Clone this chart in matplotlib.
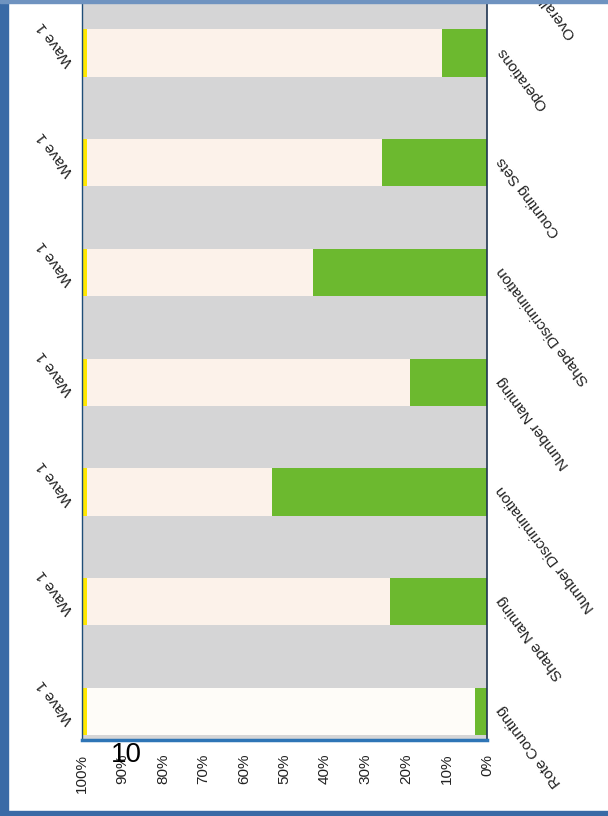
import numpy as np
import matplotlib.pyplot as plt
from matplotlib.patches import Rectangle

plt.rcParams['font.family'] = ['Liberation Sans', 'DejaVu Sans']

# categories from bottom to top (the scanned page is upside down)
categories = ["Rote Counting", "Shape Naming", "Number Discrimination", "Number Naming",
              "Shape Discrimination", "Counting Sets", "Operations", "Overall Numeracy"]
wave_labels = ["Wave 1", "Wave 1", "Wave 1", "Wave 1", "Wave 1", "Wave 1", "Wave 1", "Wave 1"]
green_pct = np.array([3, 24, 53, 19, 43, 26, 11, 25])
yellow_pct = np.array([1.2, 1.2, 1.2, 1.2, 1.2, 1.2, 1.2, 1.2])
light_pct = 100 - green_pct - yellow_pct
tick_vals = [0, 10, 20, 30, 40, 50, 60, 70, 80, 90, 100]
tick_labels = [str(v) + "%" for v in tick_vals]

light_colors = ["#fefcf8"] + ["#fcf2ea"] * 7
GREEN = "#6cb92f"
YELLOW = "#ffe800"
GRAY = "#d5d5d6"

fig = plt.figure(figsize=(6.08, 8.16), dpi=100)
fig.patch.set_facecolor("white")

# blue page border from the scan
fig.patches.append(Rectangle((0, 0), 8 / 608, 1, transform=fig.transFigure, color="#3a6aa6", zorder=0))
fig.patches.append(Rectangle((0, 0), 1, 5 / 816, transform=fig.transFigure, color="#3a6aa6", zorder=0))
fig.patches.append(Rectangle((0, 1 - 3 / 816), 1, 3 / 816, transform=fig.transFigure, color="#6f93c0", zorder=0))

ax = fig.add_axes([82 / 608, 76 / 816, 405 / 608, 857 / 816])
ax.set_facecolor(GRAY)

y = np.arange(len(categories))
h = 0.43
ax.barh(y, green_pct, height=h, left=0, color=GREEN, zorder=2)
ax.barh(y, light_pct, height=h, left=green_pct, color=light_colors, zorder=2)
ax.barh(y, yellow_pct, height=h, left=green_pct + light_pct, color=YELLOW, zorder=2)

ax.set_xlim(100, 0)
ax.set_ylim(-0.26, 7.55)
ax.set_yticks([])
ax.set_xticks(tick_vals)
ax.set_xticklabels(tick_labels, rotation=90, fontsize=11, color="#222222", va="top")
ax.tick_params(axis="x", length=0, pad=10)

for i, cat in enumerate(categories):
    ax.annotate(cat, xy=(1, i), xycoords=("axes fraction", "data"),
                xytext=(9, 3), textcoords="offset points",
                rotation=127, rotation_mode="anchor", ha="right", va="center",
                fontsize=11, color="#222222")
    ax.annotate(wave_labels[i], xy=(0, i), xycoords=("axes fraction", "data"),
                xytext=(-8, -8), textcoords="offset points",
                rotation=127, rotation_mode="anchor", ha="left", va="center",
                fontsize=11, color="#222222")

ax.spines["top"].set_visible(False)
ax.spines["left"].set_color("#1f4e79")
ax.spines["left"].set_linewidth(1.0)
ax.spines["right"].set_color("#1f3550")
ax.spines["right"].set_linewidth(1.2)
ax.spines["bottom"].set_color("#2e75b6")
ax.spines["bottom"].set_linewidth(2.5)

fig.text(126 / 608, 1 - 755 / 816, "10", fontsize=20, ha="center", va="center", color="black")

fig.savefig("out.png", dpi=100)
